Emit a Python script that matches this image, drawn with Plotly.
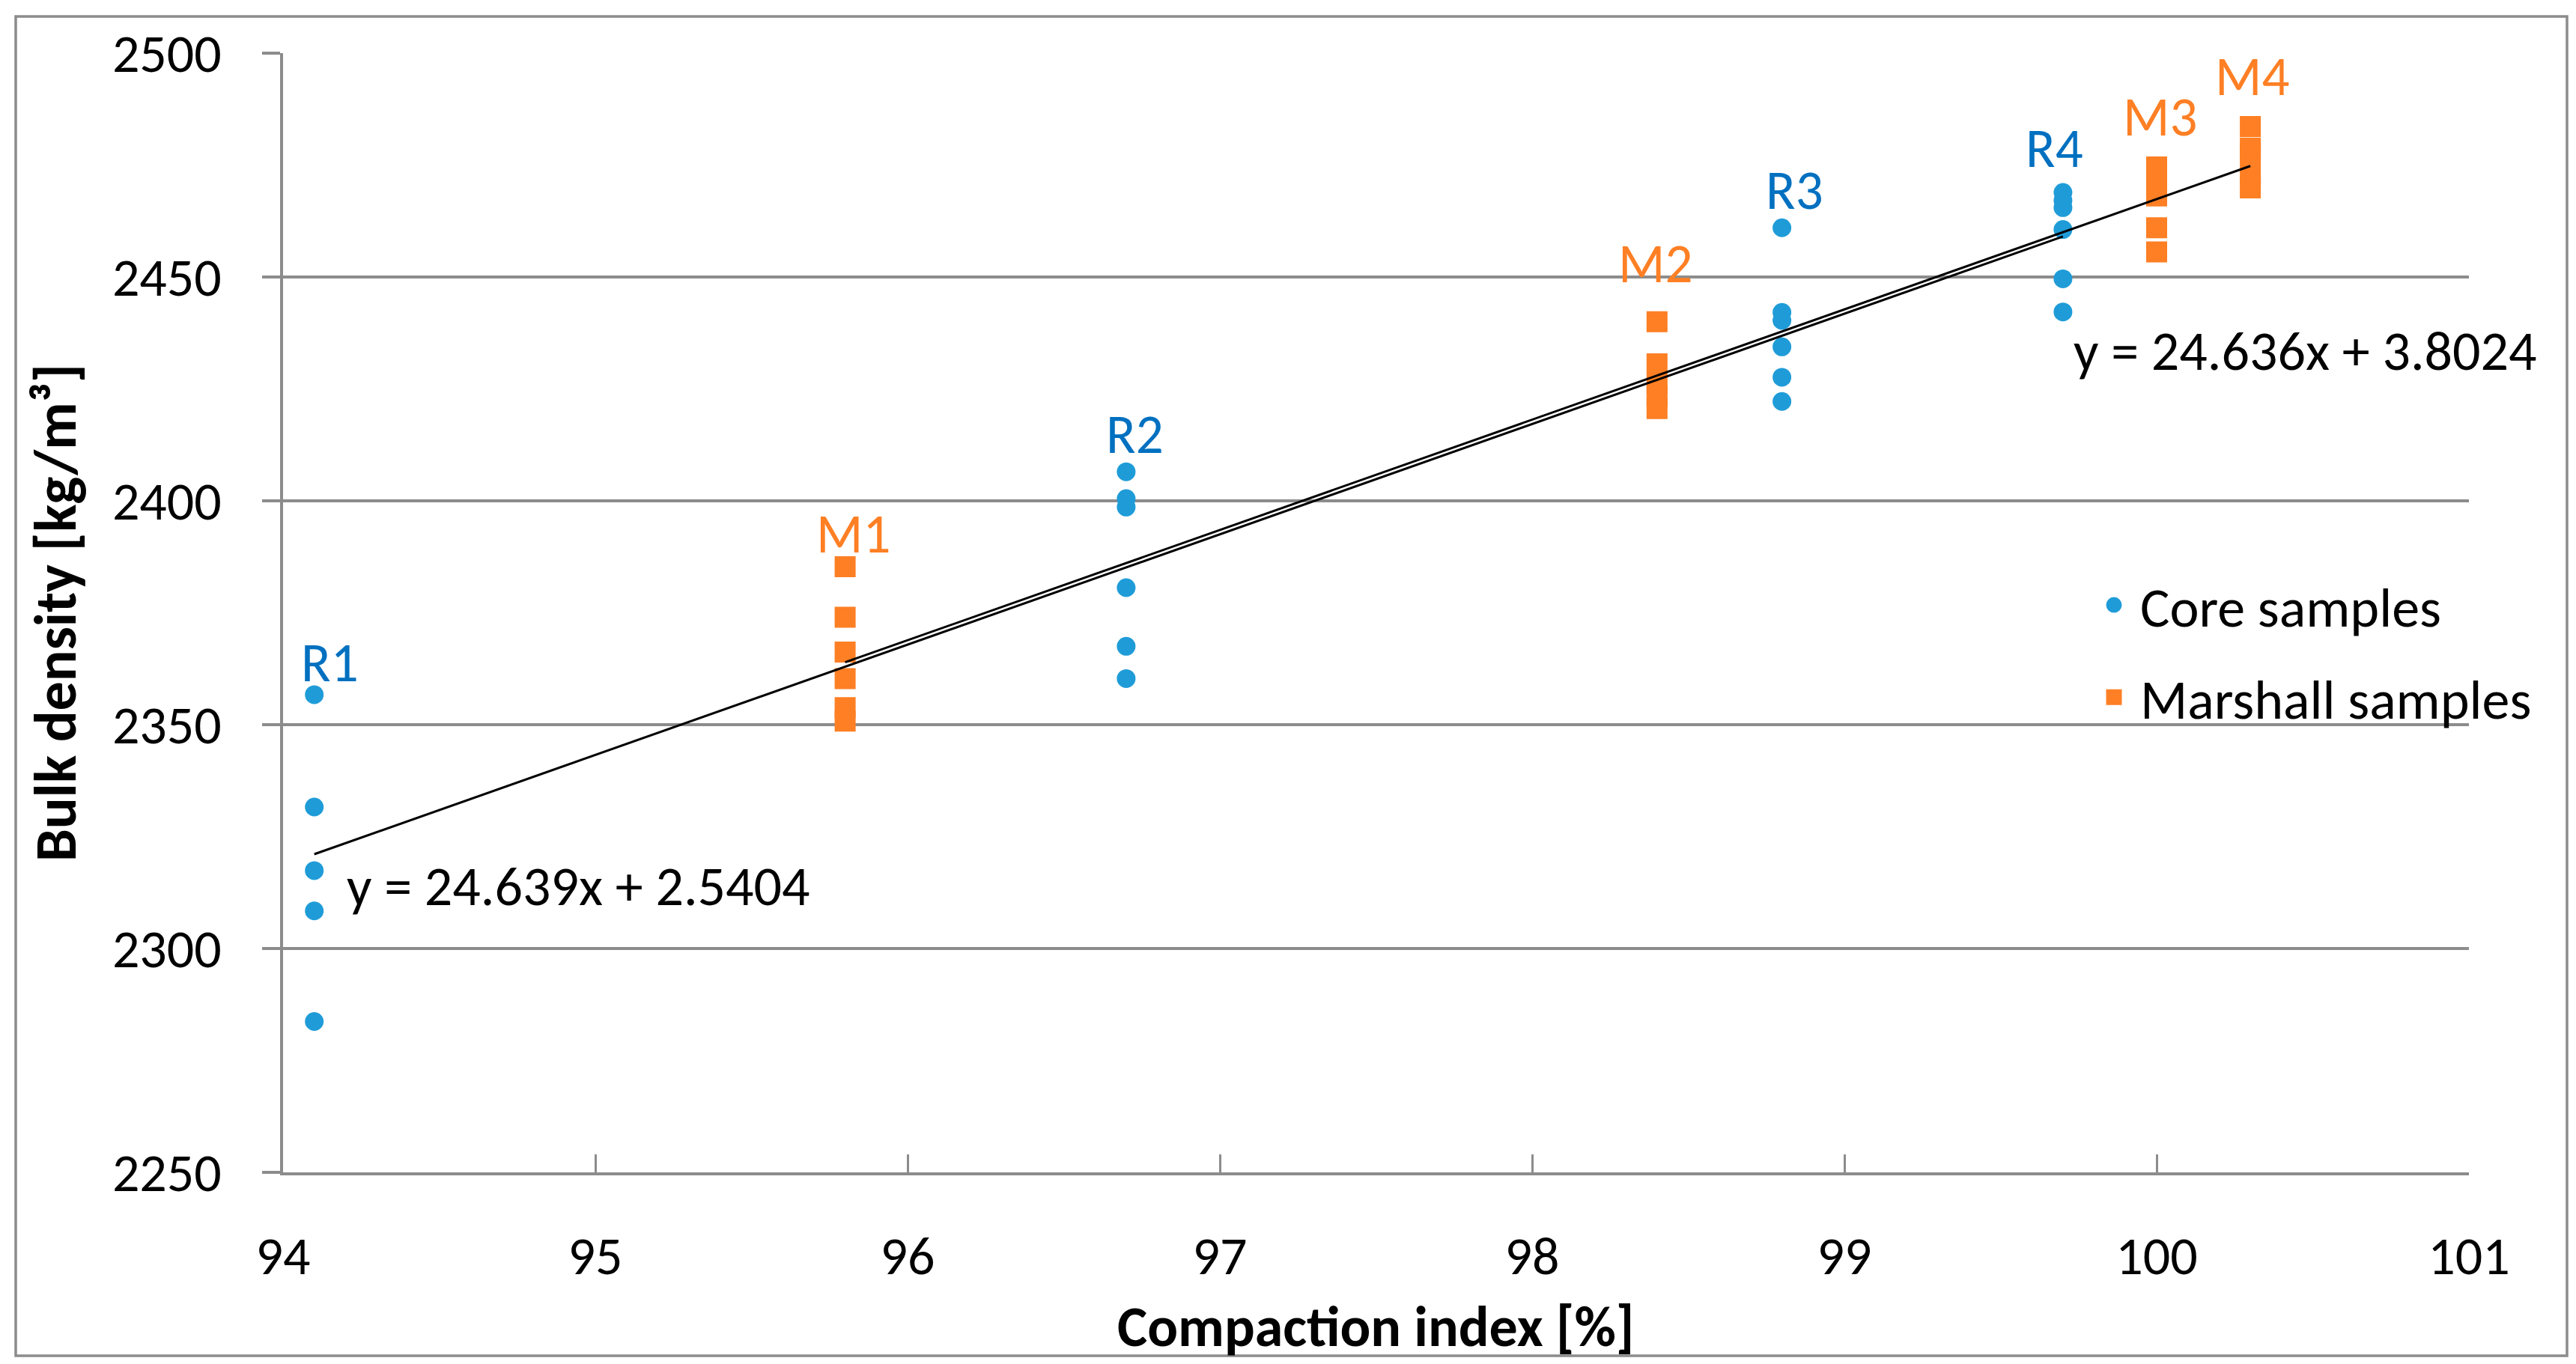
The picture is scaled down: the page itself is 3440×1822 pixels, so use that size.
import plotly.graph_objects as go

# ---------------- data ----------------
core_labels = ["R1", "R2", "R3", "R4"]
core_x = [94.1, 96.7, 98.8, 99.7]
core_r1 = [2356.7, 2331.6, 2317.4, 2308.4, 2283.7]
core_r2 = [2406.5, 2400.5, 2398.6, 2380.6, 2367.5, 2360.3]
core_r3 = [2461.0, 2442.1, 2440.3, 2434.4, 2427.6, 2422.2]
core_r4 = [2468.9, 2467.1, 2465.5, 2460.6, 2449.6, 2442.2]

marshall_labels = ["M1", "M2", "M3", "M4"]
marshall_x = [95.8, 98.4, 100.0, 100.3]
marshall_m1 = [2385.3, 2374.0, 2366.2, 2360.3, 2353.8, 2350.8]
marshall_m2 = [2440.0, 2430.6, 2426.0, 2423.4, 2420.6]
marshall_m3 = [2474.6, 2471.6, 2468.1, 2461.0, 2455.6]
marshall_m4 = [2483.6, 2478.8, 2477.6, 2472.9, 2469.9]

core_fit = [24.639, 2.5404]       # slope, intercept
marshall_fit = [24.636, 3.8024]   # slope, intercept

x_ticks = [94, 95, 96, 97, 98, 99, 100, 101]
y_ticks = [2250, 2300, 2350, 2400, 2450, 2500]

x_title = "Compaction index [%]"
y_title = "Bulk density [kg/m³]"

# ---------------- styles ----------------
FONT = "Calibri, Carlito, Lato, sans-serif"
FS = 73
TICK_FS = 72
TITLE_FS = 76
GRID = "#8c8c8c"
BLUE = "#1f9cd8"
BLUE_LABEL = "#0070c0"
ORANGE = "#fe7f24"

core_groups = [core_r1, core_r2, core_r3, core_r4]
marshall_groups = [marshall_m1, marshall_m2, marshall_m3, marshall_m4]

# label pixel offsets (dx, dy) from top point of each group
core_label_shift = [(21, 43), (12, 50), (17, 50), (-11, 59)]
marshall_label_shift = [(11, 44), (-2, 78), (4, 67), (2, 67)]


def flatten(xs, groups):
    px, py = [], []
    for gx, vals in zip(xs, groups):
        for v in vals:
            px.append(gx)
            py.append(v)
    return px, py


cx, cy = flatten(core_x, core_groups)
mx, my = flatten(marshall_x, marshall_groups)

fig = go.Figure()

fig.add_trace(go.Scatter(
    x=cx, y=cy, mode="markers", name="Core samples", legendgroup="c",
    marker=dict(symbol="circle", size=20, color=BLUE, line=dict(color=BLUE, width=5)),
))
fig.add_trace(go.Scatter(
    x=mx, y=my, mode="markers", name="Marshall samples", legendgroup="m",
    marker=dict(symbol="square", size=23, color=ORANGE, line=dict(color=ORANGE, width=5)),
))

# trend lines from the displayed equations
for xs, fit in ((core_x, core_fit), (marshall_x, marshall_fit)):
    x0, x1 = min(xs), max(xs)
    fig.add_trace(go.Scatter(
        x=[x0, x1], y=[fit[0] * x0 + fit[1], fit[0] * x1 + fit[1]],
        mode="lines", line=dict(color="black", width=3), showlegend=False,
        hoverinfo="skip",
    ))

annotations = []
for lab, gx, vals, (dx, dy) in zip(core_labels, core_x, core_groups, core_label_shift):
    annotations.append(dict(x=gx, y=max(vals), text=lab, showarrow=False,
                            xanchor="center", yanchor="middle", xshift=dx, yshift=dy,
                            font=dict(family=FONT, size=FS, color=BLUE_LABEL)))
for lab, gx, vals, (dx, dy) in zip(marshall_labels, marshall_x, marshall_groups, marshall_label_shift):
    annotations.append(dict(x=gx, y=max(vals), text=lab, showarrow=False,
                            xanchor="center", yanchor="middle", xshift=dx, yshift=dy,
                            font=dict(family=FONT, size=FS, color=ORANGE)))

annotations.append(dict(x=94.2, y=2313.8, xanchor="left", yanchor="middle", showarrow=False,
                        text=f"y = {core_fit[0]}x + {core_fit[1]}",
                        font=dict(family=FONT, size=FS + 1, color="black")))
annotations.append(dict(x=99.73, y=2433.4, xanchor="left", yanchor="middle", showarrow=False,
                        text=f"y = {marshall_fit[0]}x + {marshall_fit[1]}",
                        font=dict(family=FONT, size=FS + 1, color="black")))

W, H = 3440, 1822
L, R, T, B = 370, 151, 63, 264
pw, ph = W - L - R, H - T - B

# x-axis title as paper-anchored text (closer to tick labels than axis title standoff allows)
annotations.append(dict(x=0.5, y=(H - B - 1764) / ph, xref="paper", yref="paper",
                        xanchor="center", yanchor="middle", showarrow=False,
                        text=f"<b>{x_title}</b>",
                        font=dict(family=FONT, size=TITLE_FS, color="black")))

fig.update_layout(
    width=W, height=H,
    margin=dict(l=L, r=R, t=T, b=B),
    paper_bgcolor="white", plot_bgcolor="white",
    font=dict(family=FONT, size=FS, color="black"),
    showlegend=True,
    legend=dict(x=(2780 - L) / pw, y=(H - B - 862) / ph, xanchor="left", yanchor="middle",
                traceorder="grouped", tracegroupgap=24, itemwidth=60,
                font=dict(family=FONT, size=FS + 1, color="black"), bgcolor="rgba(0,0,0,0)"),
    annotations=annotations,
    shapes=[dict(type="rect", xref="paper", yref="paper",
                 x0=(13 - L) / pw, x1=(3420 - L) / pw,
                 y0=(H - B - 1803) / ph, y1=(H - B - 14) / ph,
                 line=dict(color="#8c8c8c", width=3.5), fillcolor="rgba(0,0,0,0)", layer="below")],
)

fig.update_xaxes(
    range=[94, 101], tickvals=x_ticks, ticktext=[str(v) for v in x_ticks],
    showgrid=False, zeroline=False, showline=True, linecolor=GRID, linewidth=3.5,
    ticks="inside", ticklen=24, tickwidth=3, tickcolor=GRID, ticklabelstandoff=46,
    tickfont=dict(family=FONT, size=TICK_FS, color="black"),
)
fig.update_yaxes(
    range=[2250, 2500], tickvals=y_ticks, ticktext=[str(v) for v in y_ticks],
    showgrid=True, gridcolor=GRID, gridwidth=3.5, zeroline=False,
    showline=True, linecolor=GRID, linewidth=3.5,
    ticks="outside", ticklen=24, tickwidth=3.5, tickcolor=GRID, ticklabelstandoff=40,
    tickfont=dict(family=FONT, size=TICK_FS, color="black"),
    title=dict(text=f"<b>{y_title}</b>", standoff=24,
               font=dict(family=FONT, size=TITLE_FS + 2, color="black")),
)

fig.write_html("out.html")
